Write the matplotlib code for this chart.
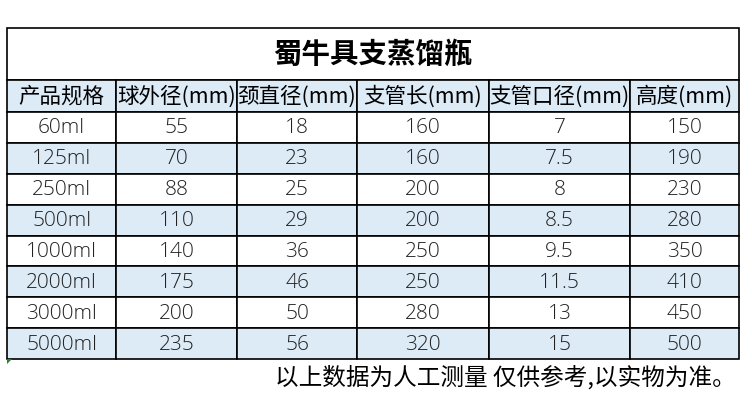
import matplotlib
matplotlib.use("Agg")
import matplotlib.pyplot as plt
from matplotlib.patches import Rectangle, Polygon

plt.rcParams['font.family'] = ['Noto Sans CJK SC', 'DejaVu Sans']

title = "蜀牛具支蒸馏瓶"
headers = ["产品规格", "球外径(mm)", "颈直径(mm)", "支管长(mm)", "支管口径(mm)", "高度(mm)"]
specs = ["60ml", "125ml", "250ml", "500ml", "1000ml", "2000ml", "3000ml", "5000ml"]
ball_dia = ["55", "70", "88", "110", "140", "175", "200", "235"]
neck_dia = ["18", "23", "25", "29", "36", "46", "50", "56"]
branch_len = ["160", "160", "200", "200", "250", "250", "280", "320"]
branch_dia = ["7", "7.5", "8", "8.5", "9.5", "11.5", "13", "15"]
height = ["150", "190", "230", "280", "350", "410", "450", "500"]
note = "以上数据为人工测量 仅供参考,以实物为准。"

columns = [specs, ball_dia, neck_dia, branch_len, branch_dia, height]

# layout in pixels
col_x = [7, 116, 237, 357, 489, 630, 739]
top, title_bot, head_bot, bottom = 28, 80, 112, 359
row_h = (bottom - head_bot) / len(specs)
blue = "#DDEBF7"
line = "#000000"

fig = plt.figure(figsize=(7.52, 4.15), dpi=100)
ax = fig.add_axes([0, 0, 1, 1])
ax.set_xlim(0, 752)
ax.set_ylim(415, 0)
ax.axis("off")

# title cell
ax.add_patch(Rectangle((col_x[0], top), col_x[-1] - col_x[0], title_bot - top,
                       facecolor="white", edgecolor=line, lw=1.2))
ax.text((col_x[0] + col_x[-1]) / 2, (top + title_bot) / 2 + 1, title,
        ha="center", va="center", fontsize=20.5, fontweight="bold")

# header row
for j, h in enumerate(headers):
    x0, x1 = col_x[j], col_x[j + 1]
    ax.add_patch(Rectangle((x0, title_bot), x1 - x0, head_bot - title_bot,
                           facecolor=blue, edgecolor=line, lw=1.2))
    ax.text((x0 + x1) / 2, (title_bot + head_bot) / 2 + 1, h,
            ha="center", va="center", fontsize=15.5)

# body rows
for i in range(len(specs)):
    y0 = head_bot + i * row_h
    fc = blue if i % 2 == 1 else "white"
    for j, col in enumerate(columns):
        x0, x1 = col_x[j], col_x[j + 1]
        ax.add_patch(Rectangle((x0, y0), x1 - x0, row_h,
                               facecolor=fc, edgecolor=line, lw=1.2))
        ax.text((x0 + x1) / 2, y0 + row_h / 2 + 1, col[i],
                ha="center", va="center", fontsize=15,
                family=["Open Sans", "Noto Sans CJK SC"], fontweight="light",
                color="#222222")

# little green excel marker
ax.add_patch(Polygon([[col_x[0], bottom], [col_x[0] + 5, bottom], [col_x[0], bottom + 5]],
                     closed=True, facecolor="#1E8C1E", edgecolor="none"))

ax.text(736, 377, note, ha="right", va="center", fontsize=17)

fig.savefig("out.png", dpi=100)
plt.close(fig)
